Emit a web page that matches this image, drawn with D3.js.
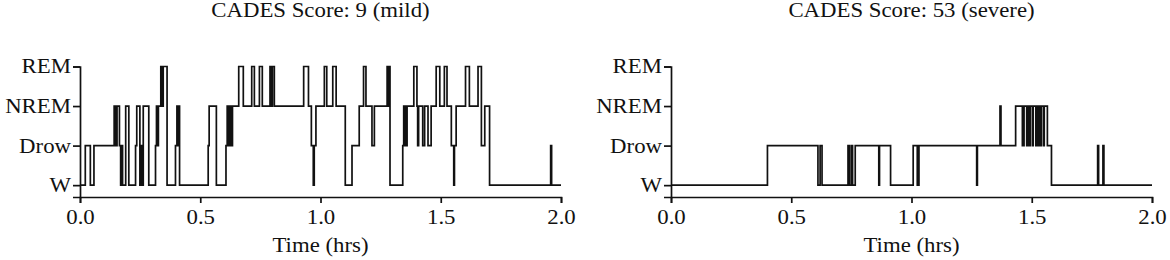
<!DOCTYPE html>
<html>
<head>
<meta charset="utf-8">
<script src="https://cdn.jsdelivr.net/npm/d3@7"></script>
<style>
  body { margin: 0; background: #fff; }
  text { font-family: "Liberation Serif", "Times New Roman", serif; }
</style>
</head>
<body>
<div id="chart"></div>
<script>
// stage labels, bottom to top
const stageLabels = ["W", "Drow", "NREM", "REM"];
const xTicks = [0, 0.5, 1.0, 1.5, 2.0];
const titles = ["CADES Score: 9 (mild)", "CADES Score: 53 (severe)"];

// left hypnogram: change times (hrs) and the stage entered at that time
const leftTimes = [0.000, 0.022, 0.043, 0.058, 0.142, 0.149, 0.154, 0.164, 0.169, 0.174,
  0.177, 0.190, 0.203, 0.231, 0.236, 0.249, 0.253, 0.256, 0.263, 0.286,
  0.314, 0.318, 0.322, 0.326, 0.336, 0.342, 0.346, 0.362, 0.397, 0.403,
  0.407, 0.410, 0.414, 0.533, 0.537, 0.567, 0.607, 0.612, 0.615, 0.619,
  0.623, 0.627, 0.631, 0.634, 0.660, 0.679, 0.714, 0.725, 0.746, 0.758,
  0.790, 0.797, 0.800, 0.808, 0.930, 0.950, 0.962, 0.970, 0.974, 0.981,
  1.016, 1.026, 1.051, 1.065, 1.103, 1.131, 1.161, 1.179, 1.189, 1.214,
  1.224, 1.277, 1.282, 1.284, 1.289, 1.342, 1.346, 1.353, 1.360, 1.388,
  1.401, 1.404, 1.408, 1.425, 1.433, 1.447, 1.460, 1.481, 1.496, 1.515,
  1.526, 1.544, 1.554, 1.557, 1.564, 1.603, 1.619, 1.655, 1.669, 1.683,
  1.703, 1.957, 1.961, 2.000];
const leftStages = ["W", "Drow", "W", "Drow", "NREM", "Drow", "NREM", "Drow", "W", "Drow",
  "W", "NREM", "W", "Drow", "NREM", "W", "Drow", "W", "NREM", "W",
  "Drow", "NREM", "Drow", "NREM", "REM", "NREM", "REM", "W", "Drow", "NREM",
  "Drow", "NREM", "W", "Drow", "NREM", "W", "Drow", "NREM", "Drow", "NREM",
  "Drow", "NREM", "Drow", "NREM", "REM", "NREM", "REM", "NREM", "REM", "NREM",
  "REM", "NREM", "REM", "NREM", "REM", "NREM", "Drow", "W", "Drow", "NREM",
  "REM", "NREM", "REM", "NREM", "W", "Drow", "NREM", "REM", "NREM", "Drow",
  "NREM", "REM", "NREM", "REM", "W", "Drow", "NREM", "Drow", "NREM", "REM",
  "NREM", "Drow", "NREM", "Drow", "NREM", "Drow", "NREM", "REM", "NREM", "REM",
  "NREM", "Drow", "W", "Drow", "NREM", "REM", "NREM", "REM", "Drow", "NREM",
  "W", "Drow", "W", "W"];

// right hypnogram
const rightTimes = [0.000, 0.401, 0.611, 0.620, 0.628, 0.736, 0.742, 0.750, 0.755, 0.766,
  0.864, 0.867, 0.913, 1.007, 1.024, 1.031, 1.271, 1.274, 1.368, 1.372,
  1.433, 1.461, 1.468, 1.479, 1.484, 1.490, 1.494, 1.503, 1.506, 1.517,
  1.521, 1.528, 1.531, 1.537, 1.540, 1.549, 1.552, 1.565, 1.582, 1.774,
  1.778, 1.796, 1.800, 2.000];
const rightStages = ["W", "Drow", "W", "Drow", "W", "Drow", "W", "Drow", "W", "Drow",
  "W", "Drow", "W", "Drow", "W", "Drow", "W", "Drow", "NREM", "Drow",
  "NREM", "Drow", "NREM", "Drow", "NREM", "Drow", "NREM", "Drow", "NREM", "Drow",
  "NREM", "Drow", "NREM", "Drow", "NREM", "Drow", "NREM", "Drow", "W", "Drow",
  "W", "Drow", "W", "W"];

const width = 1170, height = 260;
const panelLeft = [80, 671], panelWidth = 481;
const axisY = 197, remY = 66.5;
const fontSize = "20px";
const textStretch = 1.14; // the figure's type is a bit wide

const svg = d3.select("#chart")
  .append("svg")
    .attr("width", width)
    .attr("height", height);

const y = d3.scaleLinear()
  .domain([-0.3, 3])
  .range([axisY, remY]);

// widen text horizontally about its own anchor x
function stretch(sel) {
  sel.each(function() {
    const t = d3.select(this);
    const x0 = +t.attr("x") || 0;
    t.attr("transform", `translate(${x0 * (1 - textStretch)},0) scale(${textStretch},1)`);
  });
}

function drawPanel(i, times, stages) {
  const x = d3.scaleLinear()
    .domain([0, 2])
    .range([panelLeft[i], panelLeft[i] + panelWidth]);

  const g = svg.append("g");

  // x axis
  g.append("g")
    .attr("transform", `translate(0,${axisY})`)
    .call(d3.axisBottom(x)
      .tickValues(xTicks)
      .tickFormat(d3.format(".1f"))
      .tickSizeOuter(0)
      .tickSize(6)
      .tickPadding(7))
    .call(a => a.selectAll("text").style("font-size", fontSize).attr("fill", "#111").call(stretch));

  // y axis
  g.append("g")
    .attr("transform", `translate(${panelLeft[i]},0)`)
    .call(d3.axisLeft(y)
      .tickValues([0, 1, 2, 3])
      .tickFormat(d => stageLabels[d])
      .tickSizeOuter(0)
      .tickSize(7)
      .tickPadding(2))
    .call(a => a.selectAll("text").style("font-size", fontSize).attr("fill", "#111").call(stretch));

  g.selectAll(".domain, .tick line")
    .attr("stroke", "#111")
    .attr("stroke-width", 1.7);

  const pts = times.map((t, k) => [t, stageLabels.indexOf(stages[k])]);

  const line = d3.line()
    .x(d => x(d[0]))
    .y(d => y(d[1]))
    .curve(d3.curveStepAfter);

  g.append("path")
    .datum(pts)
    .attr("d", line)
    .attr("fill", "none")
    .attr("stroke", "#111")
    .attr("stroke-width", 1.7);

  // title
  g.append("text")
    .attr("x", panelLeft[i] + panelWidth / 2)
    .attr("y", 17)
    .attr("text-anchor", "middle")
    .style("font-size", fontSize)
    .attr("fill", "#111")
    .text(titles[i])
    .call(stretch);

  // x label
  g.append("text")
    .attr("x", panelLeft[i] + panelWidth / 2)
    .attr("y", 252)
    .attr("text-anchor", "middle")
    .style("font-size", fontSize)
    .attr("fill", "#111")
    .text("Time (hrs)")
    .call(stretch);
}

drawPanel(0, leftTimes, leftStages);
drawPanel(1, rightTimes, rightStages);
</script>
</body>
</html>
